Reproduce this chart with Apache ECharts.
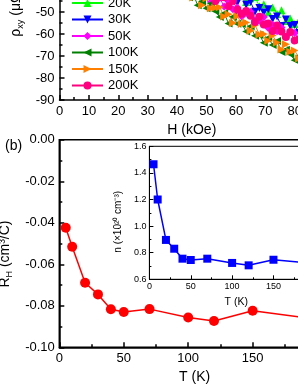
<!DOCTYPE html>
<html><head><meta charset="utf-8">
<script src="https://cdn.jsdelivr.net/npm/echarts@6/dist/echarts.min.js"></script>
<style>html,body{margin:0;padding:0;background:#fff}#c{width:298px;height:385px}</style>
</head><body><div id="c"></div>
<script>
// ---- panel (a): Hall resistivity vs field ----
const H = [44,45.5,47,48.5,50,51.5,53,54.5,56,57.5,59,60.5,62,63.5,65,66.5,68,69.5,71,72.5,74,75.5,77,78.5,80,81.5,83,84.5,86,87.5,89];
const rho20K = [-28.1,-31.2,-29.3,-34.0,-33.1,-36.8,-33.9,-37.0,-35.3,-40.7,-38.9,-42.0,-40.3,-45.4,-43.8,-43.2,-47.4,-46.5,-50.2,-47.9,-50.9,-49.2,-54.1,-53.0,-55.4,-53.8,-58.9,-56.7,-59.1,-57.8,-62.0];
const rho30K = [-34.4,-32.0,-35.5,-34.9,-39.3,-37.4,-37.2,-41.0,-43.1,-40.7,-42.7,-45.7,-42.8,-46.7,-45.5,-49.9,-48.2,-50.2,-48.7,-53.2,-52.1,-56.4,-53.4,-56.4,-55.9,-59.6,-56.9,-60.8,-60.6,-64.0,-61.7];
const rho50K = [-38.0,-41.3,-38.4,-42.5,-41.1,-45.5,-44.1,-43.6,-47.5,-45.2,-48.7,-47.9,-52.1,-50.4,-49.9,-53.7,-54.0,-52.3,-57.3,-55.8,-58.8,-57.1,-61.2,-59.3,-59.5,-62.7,-62.8,-65.8,-63.5,-66.3,-64.6];
const rho100K = [-43.3,-42.0,-46.9,-45.2,-48.3,-46.1,-49.7,-52.3,-50.6,-55.2,-52.2,-55.3,-55.4,-58.9,-56.5,-60.8,-60.5,-64.0,-61.7,-65.0,-63.2,-68.2,-67.2,-69.2,-71.9,-70.0,-73.1,-71.7,-76.7,-74.9,-77.4];
const rho150K = [-40.0,-43.4,-42.9,-46.9,-43.7,-48.3,-48.1,-47.8,-52.1,-51.0,-55.0,-51.9,-55.4,-54.8,-58.5,-56.0,-60.2,-60.0,-63.1,-60.7,-63.9,-67.1,-64.7,-68.1,-67.5,-71.1,-68.3,-72.1,-71.6,-75.1,-74.6];
const rho200K = [-37.2,-36.7,-40.2,-37.6,-41.1,-40.6,-45.0,-43.1,-43.3,-47.4,-45.0,-49.0,-50.8,-49.5,-51.7,-54.6,-52.2,-55.7,-55.2,-58.6,-56.1,-58.9,-61.4,-59.1,-62.9,-62.4,-66.4,-65.3,-67.7,-66.2,-71.0];
const tempNames = ['20K','30K','50K','100K','150K','200K'];
// ---- panel (b): Hall coefficient vs temperature, inset carrier density ----
const T = [5,10,20,30,40,50,70,100,120,150,200];
const RH = [-0.0424,-0.0515,-0.0689,-0.0745,-0.0817,-0.0830,-0.0816,-0.0856,-0.0873,-0.0824,-0.0865];
const nCarrier = [1.465,1.20,0.896,0.83,0.755,0.745,0.755,0.723,0.705,0.747,0.717];

const FF = 'Arial, "Liberation Sans", sans-serif';
const chart = echarts.init(document.getElementById('c'), null, {renderer:'canvas'});

function ax(o){
  const base = {
    type:'value', gridIndex:o.g, min:o.min, max:o.max, interval:o.interval,
    axisLine:{show:true, onZero:false, lineStyle:{color:'#000', width:o.lw||1.5}},
    axisTick:{show:true, inside:true, length:o.tl||5, lineStyle:{color:'#000', width:o.lw||1.5}},
    minorTick:{show:true, splitNumber:2, length:o.mtl||3, lineStyle:{color:'#000', width:o.lw||1.5}},
    splitLine:{show:false}, minorSplitLine:{show:false},
    axisLabel:{color:'#000', fontSize:o.fs||13, fontFamily:FF, margin:o.margin||5, formatter:o.fmt, showMaxLabel:o.sml},
    name:o.name, nameLocation:'middle', nameGap:o.gap,
    nameTextStyle:Object.assign({color:'#000', fontSize:o.nfs||14, fontFamily:FF}, o.nts||{})
  };
  if (o.pos) base.position = o.pos;
  return base;
}

const sym = {
  up:'triangle',
  down:'path://M0,0 L10,0 L5,9 Z',
  diamond:'diamond',
  left:'path://M0,5 L9,0 L9,10 Z',
  right:'path://M0,0 L9,5 L0,10 Z',
  circle:'circle'
};
const topSeries = [
  {name:'20K', data:rho20K, color:'#00ff00', symbol:sym.up},
  {name:'30K', data:rho30K, color:'#0000ff', symbol:sym.down},
  {name:'50K', data:rho50K, color:'#ff00ff', symbol:sym.diamond},
  {name:'100K', data:rho100K, color:'#008000', symbol:sym.left},
  {name:'150K', data:rho150K, color:'#ff8000', symbol:sym.right},
  {name:'200K', data:rho200K, color:'#ff0080', symbol:sym.circle}
].map(s => ({
  type:'line', name:s.name, xAxisIndex:0, yAxisIndex:0,
  data:H.map((h,i)=>[h, s.data[i]]),
  symbol:s.symbol, symbolSize:8, showAllSymbol:true,
  itemStyle:{color:s.color}, lineStyle:{color:s.color, width:1},
  animation:false
}));

const option = {
  animation:false,
  backgroundColor:'#fff',
  textStyle:{fontFamily:FF},
  grid:[
    {left:59.5, top:-98, width:264.6, height:198, outerBoundsMode:'none', containLabel:false},
    {left:59.3, top:139.8, width:270.7, height:207.5, outerBoundsMode:'none', containLabel:false, show:true, borderColor:'#000', borderWidth:1.5},
    {left:149.4, top:146.3, width:173.7, height:133, outerBoundsMode:'none', containLabel:false, show:true, borderColor:'#000', borderWidth:1, backgroundColor:'#fff', z:5}
  ],
  xAxis:[
    ax({g:0, min:0, max:90, interval:10, name:'H (kOe)', gap:22}),
    ax({g:1, min:0, max:210, interval:50, name:'T (K)', gap:22}),
    Object.assign(ax({g:2, min:0, max:210, interval:50, name:'T (K)', gap:17, fs:9, nfs:10.5, lw:1, tl:4, mtl:2, margin:3}), {z:6})
  ],
  yAxis:[
    ax({g:0, min:-90, max:0, interval:10, gap:34, name:'{a|ρ}{s|xy}{a| (μΩ cm)}',
        nts:{rich:{a:{fontSize:14, lineHeight:18, fontFamily:FF, color:'#000'}, s:{fontSize:9, lineHeight:9, verticalAlign:'bottom', fontFamily:FF, color:'#000'}}}}),
    ax({g:1, min:-0.10, max:0, interval:0.02, gap:40, name:'{a|R}{s|H}{a| (cm³/C)}', fmt:v=>v.toFixed(2), margin:4.5,
        nts:{padding:[0,21,0,0], rich:{a:{fontSize:14, lineHeight:18, fontFamily:FF, color:'#000'}, s:{fontSize:9, lineHeight:9, verticalAlign:'bottom', fontFamily:FF, color:'#000'}}}}),
    Object.assign(ax({g:2, min:0.6, max:1.6, interval:0.2, gap:22, name:'n (×10²⁰ cm⁻³)', fmt:v=>v.toFixed(1), fs:9, nfs:10, lw:1, tl:4, mtl:2, margin:3,
        nts:{padding:[0,18,0,0]}}), {z:6})
  ],
  legend:{
    data:tempNames, orient:'vertical', left:71, top:-3.5, padding:0,
    itemWidth:31, itemHeight:10, itemGap:3.5,
    textStyle:{fontSize:13, fontFamily:FF, color:'#000'},
    selectedMode:false
  },
  graphic:[
    {type:'text', left:5, top:139, style:{text:'(b)', fontSize:14, fontFamily:FF, fill:'#000'}}
  ],
  series: topSeries.concat([
    {type:'line', name:'RH', xAxisIndex:1, yAxisIndex:1, data:T.map((t,i)=>[t, RH[i]]),
     symbol:'circle', symbolSize:10, itemStyle:{color:'#ff0000'}, lineStyle:{color:'#ff0000', width:1.5}},
    {type:'line', name:'n', xAxisIndex:2, yAxisIndex:2, data:T.map((t,i)=>[t, nCarrier[i]]), z:7,
     symbol:'rect', symbolSize:8, itemStyle:{color:'#0000ff'}, lineStyle:{color:'#0000ff', width:1.5}}
  ])
};
chart.setOption(option);
</script>
</body></html>
